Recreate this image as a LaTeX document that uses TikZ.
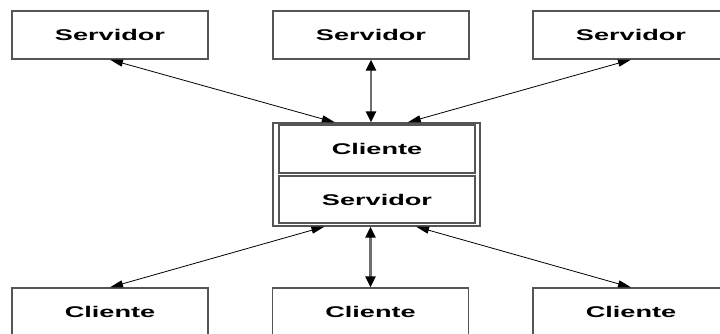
\documentclass[tikz,border=0pt]{standalone}
\usepackage{fontspec}
\usepackage{graphicx}
\setmainfont{Liberation Sans}
\usetikzlibrary{arrows.meta,calc}
\definecolor{boxgray}{RGB}{85,85,85}
\definecolor{linkgray}{RGB}{110,110,110}
\newcommand{\wide}[1]{\scalebox{1.75}[1]{#1}}

\begin{document}
\begin{tikzpicture}[x=1pt,y=-1pt,
  box/.style={draw=boxgray, line width=1.3pt, fill=white,
    minimum width=196pt, minimum height=48pt, inner sep=0pt,
    font=\fontsize{15.5}{18}\selectfont\bfseries},
  link/.style={{Triangle[length=13pt,width=7pt]}-{Triangle[length=13pt,width=7pt]},
    line width=0.8pt, black},
  vlink/.style={{Triangle[length=11pt,width=10pt,color=black]}-{Triangle[length=11pt,width=10pt,color=black]},
    draw=linkgray, line width=2.4pt}
]
\clip (0,0) rectangle (720,334);
\fill[white] (0,0) rectangle (720,334);

% upper row of servers
\node[box] (s1) at (110,35) {\wide{Servidor}};
\node[box] (s2) at (371,35) {\wide{Servidor}};
\node[box] (s3) at (631,35) {\wide{Servidor}};

% central client/server stack
\node[draw=boxgray, line width=1.3pt, minimum width=207pt, minimum height=103pt, inner sep=0pt] (mid) at (376.5,174.5) {};
\node[box] (mc) at (377,149) {\wide{Cliente}};
\node[box, minimum height=47pt] (ms) at (377,199.5) {\wide{Servidor}};

% lower row of clients
\node[box] (c1) at (110,312) {\wide{Cliente}};
\node[box] (c2) at (370.5,312) {\wide{Cliente}};
\node[box] (c3) at (631,312) {\wide{Cliente}};

% attachment points on the central stack
\coordinate (mtl) at ($(mid.north west)!0.30!(mid.north east)$);
\coordinate (mtr) at ($(mid.north west)!0.65!(mid.north east)$);
\coordinate (mbl) at ($(mid.south west)!0.25!(mid.south east)$);
\coordinate (mbr) at ($(mid.south west)!0.69!(mid.south east)$);

% connectors
\draw[link] (s1.south) -- (mtl);
\draw[link] (s3.south) -- (mtr);
\draw[vlink] (s2.south) -- (s2.south |- mid.north);
\draw[link] (c1.north) -- (mbl);
\draw[link] (c3.north) -- (mbr);
\draw[vlink] (c2.north) -- (c2.north |- mid.south);
\end{tikzpicture}
\end{document}
